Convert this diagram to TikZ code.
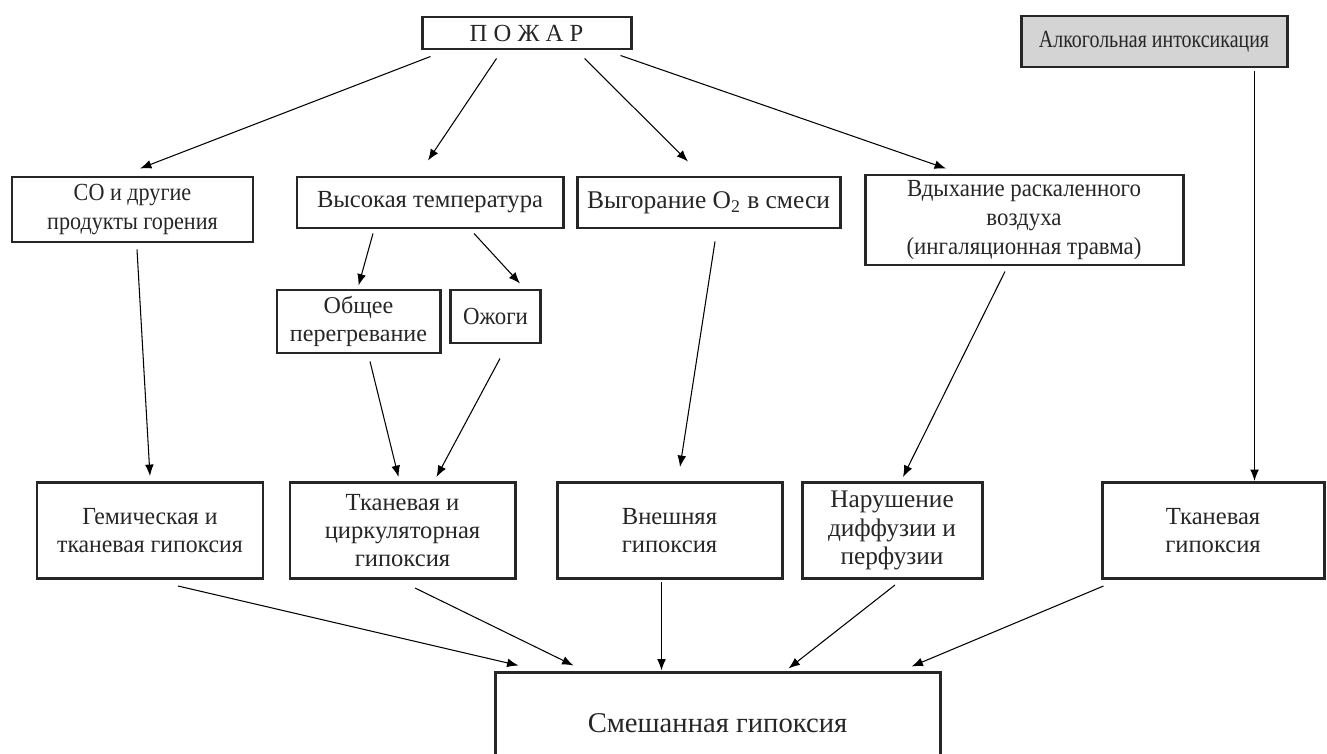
\documentclass[tikz,border=0pt]{standalone}
\usepackage{fontspec}
\setmainfont{Liberation Serif}
\newfontfamily\narrowA[FakeStretch=0.81]{Liberation Serif}
\newfontfamily\narrowB[FakeStretch=0.9]{Liberation Serif}
\newfontfamily\narrowC[FakeStretch=0.93]{Liberation Serif}
\newfontfamily\narrowD[FakeStretch=0.965]{Liberation Serif}
\usepackage{xcolor}
\usepackage{tikz}
\usetikzlibrary{arrows.meta,calc}
\definecolor{boxgray}{RGB}{212,212,212}

\begin{document}
\begin{tikzpicture}[x=0.02cm,y=-0.02cm,
            box/.style={draw=black!85, line width=1.7pt, align=center, inner sep=0pt,
                text=black!85, font=\fontsize{14}{16}\selectfont},
            arr/.style={black, line width=0.6pt, -{Latex[length=6.5pt,width=5pt]}}]
            \useasboundingbox (0,0) rectangle (1327,753);
            \node[box, minimum width=209*0.02cm, minimum height=32*0.02cm] (pozhar) at (526.5,33) {П О Ж А Р};
            \node[box, fill=boxgray, minimum width=266*0.02cm, minimum height=51*0.02cm,
                font=\narrowA\fontsize{14}{16}\selectfont] (alko) at (1154,41.5) {Алкогольная интоксикация};
            \node[box, minimum width=241*0.02cm, minimum height=65*0.02cm,
                font=\narrowB\fontsize{14}{16}\selectfont] (co) at (132.5,209.5) {СО и другие\\продукты горения};
            \node[box, minimum width=266*0.02cm, minimum height=51*0.02cm] (temp) at (430,202.5) {Высокая температура};
            \node[box, minimum width=263*0.02cm, minimum height=51*0.02cm,
                font=\fontsize{14.5}{16}\selectfont] (vygor) at (708.5,202.5) {Выгорание O\textsubscript{2} в смеси};
            \node[box, minimum width=318*0.02cm, minimum height=90*0.02cm,
                font=\narrowC\fontsize{14}{16.5}\selectfont] (vdykh) at (1024,220) {Вдыхание раскаленного\\воздуха\\(ингаляционная травма)};
            \node[box, minimum width=163*0.02cm, minimum height=63*0.02cm,
                font=\fontsize{13.7}{16}\selectfont] (obshch) at (358.5,321.5) {Общее\\перегревание};
            \node[box, minimum width=90*0.02cm, minimum height=53*0.02cm,
                font=\narrowC\fontsize{14}{16}\selectfont] (ozhogi) at (495.5,316.5) {Ожоги};
            \node[box, minimum width=226*0.02cm, minimum height=96*0.02cm,
                font=\narrowD\fontsize{14}{16}\selectfont] (gem) at (150,530.5) {Гемическая и\\тканевая гипоксия};
            \node[box, minimum width=225*0.02cm, minimum height=96*0.02cm] (tkcirc) at (402.5,530.5) {Тканевая и\\циркуляторная\\гипоксия};
            \node[box, minimum width=225*0.02cm, minimum height=96*0.02cm] (vnesh) at (669.5,530.5) {Внешняя\\гипоксия};
            \node[box, minimum width=180*0.02cm, minimum height=96*0.02cm,
                font=\fontsize{14.4}{16}\selectfont] (narush) at (892,530.5) {Нарушение\\диффузии и\\перфузии};
            \node[box, minimum width=222*0.02cm, minimum height=96*0.02cm] (tkan) at (1213,530.5) {Тканевая\\гипоксия};
            \node[box, minimum width=445*0.02cm, minimum height=102*0.02cm,
                font=\fontsize{16.3}{18}\selectfont] (mixed) at (717.5,723) {Смешанная гипоксия};
            \draw[arr] ($(pozhar.south west)+(10,6)$) -- ($(co.north)+(7.5,-7)$);
            \draw[arr] ($(pozhar.south)+(-30,8)$) -- ($(temp.north)+(-2,-15)$);
            \draw[arr] ($(pozhar.south)+(58,8)$) -- ($(vygor.north)+(-20.5,-14)$);
            \draw[arr] ($(pozhar.south east)+(-12,5)$) -- ($(vdykh.north)+(-78,-5)$);
            \coordinate (alkoout) at ($(alko.south east)+(-34,3)$);
            \draw[arr] (alkoout) -- (alkoout |- tkan.north);
            \draw[arr] ($(co.south)+(4.5,6)$) -- ($(gem.north)+(0,-5)$);
            \draw[arr] ($(temp.south)+(-57,4)$) -- ($(obshch.north)+(0,-3)$);
            \draw[arr] ($(temp.south)+(44,4)$) -- ($(ozhogi.north)+(24.5,-5)$);
            \draw[arr] ($(obshch.south)+(11.5,7)$) -- ($(tkcirc.north)+(-4,-4)$);
            \draw[arr] ($(ozhogi.south)+(4.5,14)$) -- ($(tkcirc.north)+(34,-4)$);
            \draw[arr] ($(vygor.south)+(6.5,12)$) -- ($(vnesh.north)+(10.5,-14)$);
            \draw[arr] ($(vdykh.south)+(-19,5)$) -- ($(narush.north)+(11,-4)$);
            \draw[arr] ($(gem.south)+(28,6)$) -- ($(mixed.north west)+(25,-5)$);
            \draw[arr] ($(tkcirc.south)+(12.5,8)$) -- ($(mixed.north west)+(80,-5)$);
            \coordinate (vneshout) at ($(vnesh.south)+(-8,2)$);
            \draw[arr] (vneshout) -- (vneshout |- mixed.north);
            \draw[arr] ($(narush.south)+(3,5)$) -- ($(mixed.north west)+(295,-2)$);
            \draw[arr] ($(tkan.south west)+(3,6)$) -- ($(mixed.north east)+(-30,-4)$);
\end{tikzpicture}
\end{document}
